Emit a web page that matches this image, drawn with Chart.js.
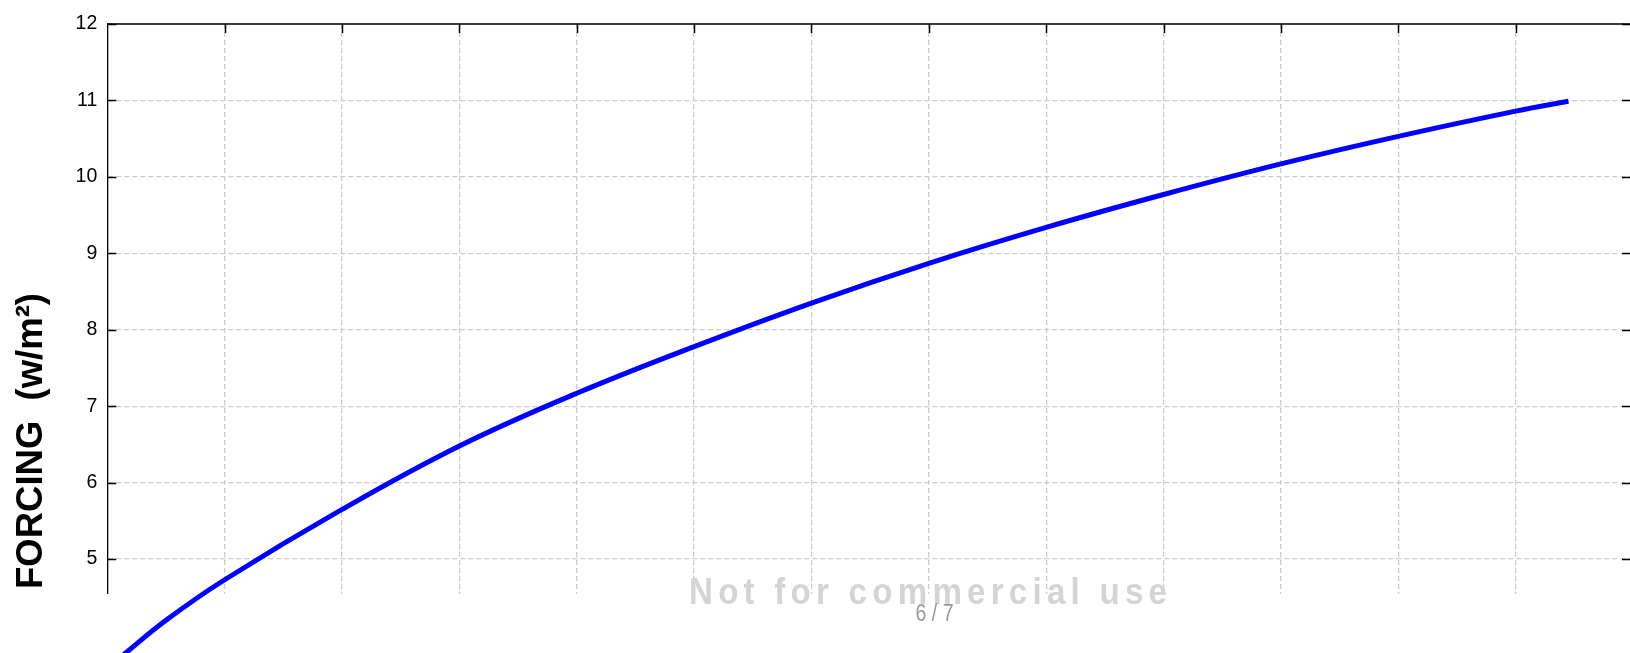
<!DOCTYPE html>
<html><head><meta charset="utf-8">
<script src="https://cdn.jsdelivr.net/npm/chart.js@4/dist/chart.umd.min.js"></script>
<style>
html,body{margin:0;padding:0;background:#fff;overflow:hidden;width:1630px;height:653px;}
#wrap{position:absolute;left:0;top:0;width:1633px;height:712px;}
</style></head><body>
<div id="wrap"><canvas id="c"></canvas></div>
<script>
// x positions in grid units (the x-axis labels are cut off in the source)
const xPos    = [0.13, 0.5, 1, 2, 3, 4, 5, 6, 7, 8, 9, 10, 11, 12, 12.45];
const forcing = [3.74, 4.20, 4.73, 5.65, 6.48, 7.17, 7.78, 8.35, 8.87, 9.34, 9.77, 10.17, 10.53, 10.86, 10.99];
const yMin = 3, yMax = 12, yStep = 1;
const xMin = 0, xMax = 13, xStep = 1;
const yTitle = 'FORCING  (w/m²)';
const watermark = 'Not for commercial use';
const pageLabel = '6 / 7';

const CUT_Y = 594;

const framePlugin = {
  id: 'frame',
  beforeDatasetsDraw(chart) {
    const {ctx, chartArea: a, scales: {x, y}} = chart;
    ctx.save();
    ctx.fillStyle = '#ffffff';
    ctx.fillRect(0, CUT_Y, chart.width, chart.height - CUT_Y);
    ctx.strokeStyle = '#000';
    ctx.lineWidth = 1.3;
    ctx.beginPath();
    ctx.moveTo(a.left, a.top); ctx.lineTo(a.right, a.top);
    ctx.stroke();
    ctx.lineWidth = 1.5;
    ctx.beginPath();
    x.ticks.forEach(t => {
      if (t.value <= xMin || t.value >= xMax) return;
      const px = Math.round(x.getPixelForValue(t.value)) + 0.5;
      ctx.moveTo(px, a.top); ctx.lineTo(px, a.top + 9);
    });
    y.ticks.forEach(t => {
      const py = Math.round(y.getPixelForValue(t.value)) + 0.5;
      if (py > CUT_Y) return;
      ctx.moveTo(a.left, py); ctx.lineTo(a.left + 9, py);
      ctx.moveTo(a.right, py); ctx.lineTo(a.right - 11, py);
    });
    ctx.stroke();
    ctx.restore();
  },
  afterDraw(chart) {
    const ctx = chart.ctx;
    // y title
    ctx.save();
    ctx.font = 'bold 36.5px "Liberation Sans", Arial, sans-serif';
    ctx.fillStyle = '#000';
    ctx.textAlign = 'center';
    ctx.textBaseline = 'alphabetic';
    ctx.translate(42, 441);
    ctx.rotate(-Math.PI / 2);
    ctx.fillText(yTitle, 0, 0);
    ctx.restore();
    // watermark
    ctx.save();
    const sx = 0.92;
    ctx.font = 'bold 36px "Liberation Sans", Arial, sans-serif';
    ctx.fillStyle = '#d4d4d4';
    ctx.textAlign = 'left';
    ctx.textBaseline = 'alphabetic';
    ctx.letterSpacing = '0px';
    const w0 = ctx.measureText(watermark).width;
    const sp = (478 / sx - w0) / (watermark.length - 1);
    ctx.letterSpacing = sp + 'px';
    ctx.translate(689, 604);
    ctx.scale(sx, 1);
    ctx.fillText(watermark, 0, 0);
    ctx.restore();
    // page label
    ctx.save();
    ctx.font = '23px "Liberation Sans", Arial, sans-serif';
    ctx.fillStyle = '#9a9a9a';
    ctx.textAlign = 'center';
    ctx.textBaseline = 'alphabetic';
    ctx.translate(934.5, 621);
    ctx.scale(0.85, 1);
    ctx.fillText(pageLabel, 0, 0);
    ctx.restore();
  }
};

new Chart(document.getElementById('c'), {
  type: 'line',
  data: {
    datasets: [{
      data: xPos.map((v, i) => ({x: v, y: forcing[i]})),
      borderColor: '#0000ff',
      borderWidth: 5,
      pointRadius: 0,
      fill: false,
      tension: 0.4,
      borderCapStyle: 'butt'
    }]
  },
  options: {
    responsive: true,
    maintainAspectRatio: false,
    animation: false,
    devicePixelRatio: 1,
    layout: {padding: {top: 24, left: 0, right: 0, bottom: 0}},
    plugins: {legend: {display: false}, tooltip: {enabled: false}, title: {display: false}},
    scales: {
      x: {
        type: 'linear', min: xMin, max: xMax,
        ticks: {display: false, stepSize: xStep},
        grid: {
          color: c => (c.tick && (c.tick.value === xMin || c.tick.value === xMax)) ? 'rgba(0,0,0,0)' : '#cccccc',
          lineWidth: 1.3, drawTicks: false, tickLength: 0
        },
        border: {display: false, dash: [5, 3]},
        afterFit: s => { s.height = 0; s.paddingLeft = 0; s.paddingRight = 0; s.paddingTop = 0; s.paddingBottom = 0; }
      },
      y: {
        type: 'linear', min: yMin, max: yMax,
        ticks: {
          stepSize: yStep, padding: 10, color: '#000',
          font: {family: '"Liberation Sans", Arial, sans-serif', size: 19.5},
          callback: v => String(v)
        },
        grid: {color: '#cccccc', lineWidth: 1.3, drawTicks: false, tickLength: 0},
        border: {display: true, color: '#000', width: 1.3, dash: [5, 3]},
        afterFit: s => { s.width = 107.3; s.paddingTop = 0; s.paddingBottom = 0; s.paddingLeft = 0; s.paddingRight = 0; }
      }
    }
  },
  plugins: [framePlugin]
});
</script>
</body></html>
